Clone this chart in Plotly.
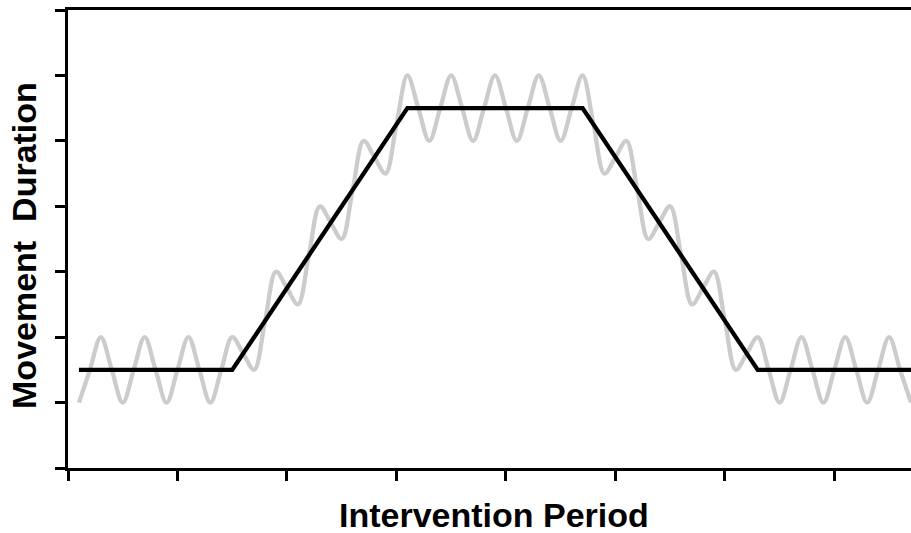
import plotly.graph_objects as go

# Trend (black) key points
trend_x = [1, 15, 31, 47, 63, 77]
trend_y = [1.5, 1.5, 5.5, 5.5, 1.5, 1.5]

# Observed (grey oscillating) values read at each unit of the period
obs_x = list(range(1, 78))
obs_y = [
    1.0, 1.5, 2.0, 1.5, 1.0, 1.5, 2.0, 1.5, 1.0, 1.5,
    2.0, 1.5, 1.0, 1.5, 2.0, 1.75, 1.5, 2.25, 3.0, 2.75,
    2.5, 3.25, 4.0, 3.75, 3.5, 4.25, 5.0, 4.75, 4.5, 5.25,
    6.0, 5.5, 5.0, 5.5, 6.0, 5.5, 5.0, 5.5, 6.0, 5.5,
    5.0, 5.5, 6.0, 5.5, 5.0, 5.5, 6.0, 5.25, 4.5, 4.75,
    5.0, 4.25, 3.5, 3.75, 4.0, 3.25, 2.5, 2.75, 3.0, 2.25,
    1.5, 1.75, 2.0, 1.5, 1.0, 1.5, 2.0, 1.5, 1.0, 1.5,
    2.0, 1.5, 1.0, 1.5, 2.0, 1.5, 1.0,
]

x_ticks = [0, 10, 20, 30, 40, 50, 60, 70]
y_ticks = [0, 1, 2, 3, 4, 5, 6, 7]

x_title = "Intervention Period"
y_title = "Movement&nbsp; Duration"

fig = go.Figure()
fig.add_trace(go.Scatter(
    x=obs_x, y=obs_y, mode="lines",
    line=dict(color="#cccccc", width=4.3, shape="spline", smoothing=1.0),
    hoverinfo="skip", showlegend=False,
))
fig.add_trace(go.Scatter(
    x=trend_x, y=trend_y, mode="lines",
    line=dict(color="#000000", width=4.3),
    hoverinfo="skip", showlegend=False,
))

font_family = "Liberation Sans, Arial, sans-serif"
fig.update_layout(
    width=911, height=533,
    margin=dict(l=68, r=0, t=10, b=65),
    paper_bgcolor="white", plot_bgcolor="white",
    font=dict(family=font_family, color="black"),
    xaxis=dict(
        range=[0, 77], tickvals=x_ticks, showticklabels=False,
        ticks="outside", ticklen=10, tickwidth=3, tickcolor="black",
        showline=True, linecolor="black", linewidth=3, mirror=True,
        showgrid=False, zeroline=False,
    ),
    yaxis=dict(
        range=[0, 7], tickvals=y_ticks, showticklabels=False,
        ticks="outside", ticklen=10, tickwidth=3, tickcolor="black",
        showline=True, linecolor="black", linewidth=3,
        showgrid=False, zeroline=False,
    ),
    annotations=[
        dict(text="<b>%s</b>" % x_title, xref="paper", yref="paper",
             x=0.505, y=-0.1026, xanchor="center", yanchor="middle",
             showarrow=False, font=dict(size=34, family=font_family, color="black")),
        dict(text="<b>%s</b>" % y_title, xref="paper", yref="paper",
             x=-0.0522, y=0.487, xanchor="center", yanchor="middle",
             textangle=-90,
             showarrow=False, font=dict(size=34, family=font_family, color="black")),
    ],
)

fig.write_html(
    "out.html",
    config={"displayModeBar": False},
    post_script="document.body.style.margin='0';document.body.style.overflow='hidden';",
)
